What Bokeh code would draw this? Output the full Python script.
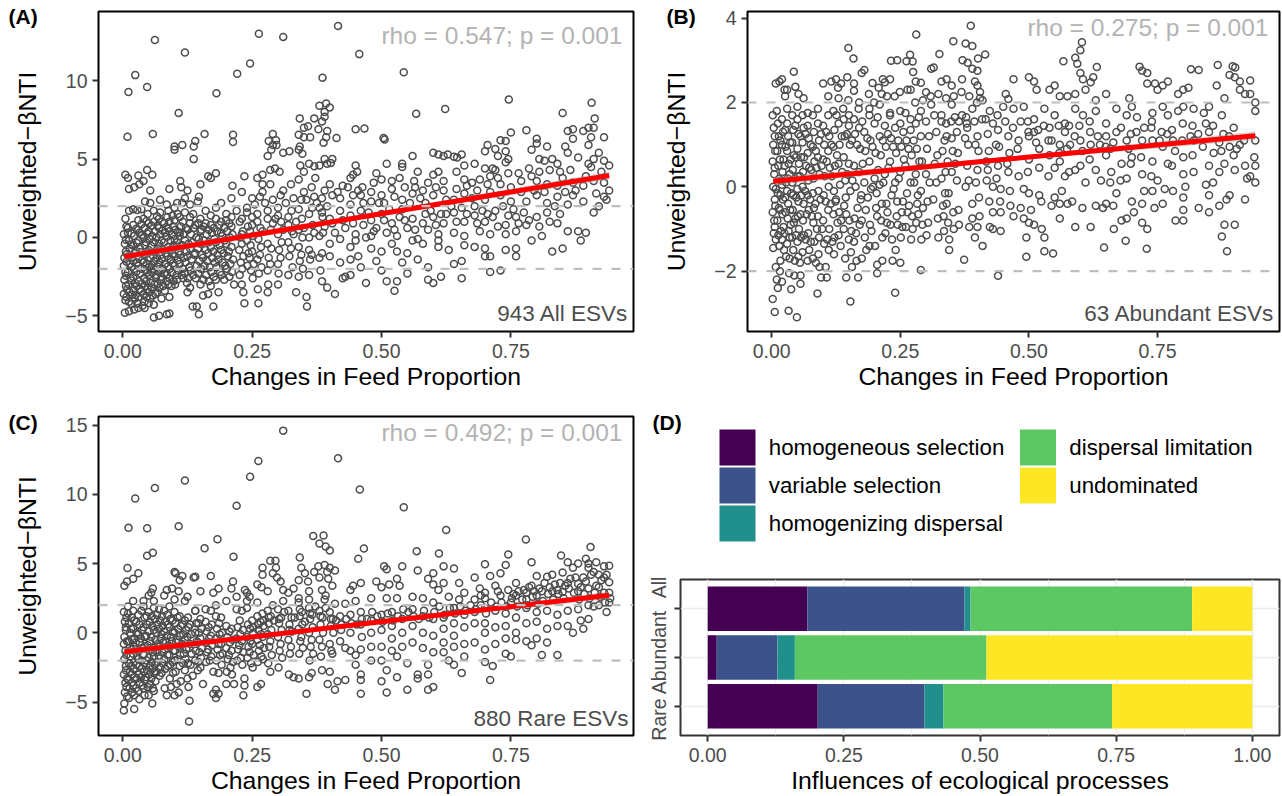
from bokeh.plotting import figure
from bokeh.layouts import column, row
from bokeh.models import Span, FixedTicker, NumeralTickFormatter, Range1d
from bokeh.core.properties import value
from bokeh.embed import file_html
from bokeh.resources import INLINE
import math

points_a = [
.011,9.28,.024,10.36,.047,9.6,.062,12.6,.009,6.42,.058,6.6,.108,7.95,.12,11.8,.1,5.8,.1,5.6,.115,5.9,.137,5.8,.14,6.15,.137,5.0,.158,6.6,.181,9.2,.213,6.55,.213,6.1,.221,10.45,.246,11.1,.263,13.0,.31,12.8,.386,10.2,.416,13.5,.457,11.7,.543,10.55,.567,7.9,.623,8.2,.746,8.8,.906,8.6,.85,7.95,.912,7.6,
.342,7.6,.38,8.4,.393,8.55,.40,8.3,.39,8.0,.39,7.7,.37,7.6,.385,7.4,.35,7.0,.358,7.1,.34,6.55,.35,6.4,.362,6.4,.378,6.9,.395,6.8,.393,6.4,.388,6.05,.413,6.35,.45,6.9,.467,6.95,.504,6.35,.506,6.25,.29,6.6,.282,6.15,.296,6.2,.29,5.9,.297,5.9,.287,5.6,.31,5.4,.322,5.5,.34,5.6,.342,5.8,.347,5.35,.28,5.2,.39,5.0,.405,5.0,.402,4.75,.395,4.7,.38,4.6,.343,4.6,.36,4.7,.37,4.55,.285,4.3,.294,4.4,.303,4.2,.35,4.2,.372,3.8,.34,3.7,.44,3.8,.45,4.6,.453,4.2,.445,4.0,.463,3.2,.48,2.9,.49,4.1,.51,4.7,.5,3.7,.52,3.6,.535,3.8,.54,4.7,.54,4.5,.56,5.2,.57,4.2,.563,3.6,.6,5.4,.61,5.3,.62,5.2,.628,5.3,.64,5.15,.646,5.1,.655,5.3,.66,4.6,.645,4.2,.68,4.7,.6,4.0,.61,4.2,.59,3.5,.62,3.6,.705,5.9,.7,5.5,.72,5.65,.74,5.5,.73,6.2,.74,6.15,.75,6.7,.745,5.0,.725,5.2,.74,4.8,.78,6.85,.8,6.3,.8,6.0,.82,5.8,.79,5.6,.815,4.9,.805,5.0,.83,5.0,.84,4.7,.86,6.8,.87,6.9,.87,6.3,.855,5.8,.86,5.4,.88,5.1,.89,6.8,.9,7.0,.91,7.0,.905,6.4,.9,5.9,.92,5.4,.93,6.4,.91,5.0,.9,4.7,.93,4.9,.94,4.6,.925,4.2,.905,4.5,.7,4.4,.715,4.4,.72,4.3,.71,3.9,.69,3.7,.675,3.5,.66,3.7,.73,3.4,.75,3.2,.77,3.6,.79,3.9,.8,3.6,.82,3.4,.84,3.3,.85,3.8,.87,3.5,.89,3.3,.91,3.6,.93,3.5,.94,3.0,.93,2.6,.935,2.4,.92,2.0,.91,1.6,.89,2.3,.87,2.7,.86,2.1,.84,2.6,.82,2.2,.8,2.7,.78,2.3,.77,2.9,.75,2.3,.73,2.7,.71,2.9,.7,2.4,.68,2.0,.66,2.8,.64,2.4,.62,3.0,.6,2.7,.58,3.0,.56,2.8,.54,2.4,.52,3.1,.5,2.7,.48,2.3,.46,2.7,.44,2.1,.42,2.5,.4,3.4,.39,3.0,.37,2.6,.35,2.9,.33,2.5,.31,3.0,.29,2.4,.27,2.9,.25,2.5,.23,2.9,.21,2.5,.19,2.2,.17,3.8,.18,4.1,.165,3.9,.15,3.4,.147,2.6,.212,3.3,.235,3.9,.26,3.8,.27,4.0,.27,3.4,
.005,4.0,.01,3.8,.012,3.1,.022,3.2,.03,3.95,.032,3.4,.04,3.6,.047,4.3,.057,4.0,.053,3.0,.043,2.3,.053,2.2,.072,2.4,.085,2.1,.09,3.1,.111,3.6,.113,3.2,.125,3.0,.12,2.5,.105,2.2,.005,1.2,.012,1.7,.02,1.8,.028,1.75,.036,1.8,.048,1.5,.06,1.7,.072,1.6,.088,1.7,.1,1.9,.115,2.2,.13,2.1,.145,2.3,.16,1.7,.18,1.9,.2,1.5,.22,1.7,.24,1.9,.26,1.5,.28,1.7,.3,1.9,.32,1.3,.34,1.8,.36,1.5,.38,1.9,.4,1.2,.42,1.7,.44,1.4,.46,1.7,.48,1.1,.5,1.5,.52,0.9,.54,1.8,.56,1.2,.58,0.9,.6,1.3,.62,0.9,.64,1.6,.66,1.0,.68,1.4,.7,1.0,.72,1.7,.74,0.8,.76,1.3,.78,0.8,.8,1.3,.82,1.6,.84,0.9,.86,0.4,.88,0.4,.895,0.3,.885,-0.2,.79,-0.2,.81,0.1,.76,0.4,.74,0.2,.71,0.2,.69,0.4,.66,0.1,.64,0.3,.61,0.2,.59,0.5,.57,-0.1,.55,0.6,.53,0.1,.51,0.3,.49,0.6,.47,0.0,.45,0.2,.43,0.6,.41,0.3,.39,0.7,.37,0.3,.35,0.6,.33,0.2,.31,0.5,.29,0.9,.27,0.4,.25,0.8,.23,0.2,.21,0.7,.19,0.3,.17,0.8,.15,0.4,.13,0.9,.11,0.3,.09,1.0,.07,0.6,.05,0.9,.03,0.5,.01,0.6,
.002,0.2,.004,-0.4,.006,-0.9,.003,-1.3,.002,-1.8,.005,-2.2,.003,-2.7,.006,-3.1,.002,-3.6,.005,-4.0,.004,-4.8,.012,-4.7,.022,-4.6,.03,-4.5,.042,-4.5,.05,-4.2,.06,-5.1,.07,-5.0,.085,-4.9,.09,-4.85,.06,-4.3,.075,-3.9,.09,-3.8,.01,0.3,.012,-0.2,.013,-0.7,.011,-1.2,.014,-1.7,.01,-2.2,.015,-2.6,.011,-3.0,.013,-3.5,.012,-4.1,.02,0.8,.022,0.1,.02,-0.5,.023,-1.0,.02,-1.5,.022,-2.0,.02,-2.5,.024,-2.9,.021,-3.4,.023,-3.9,.03,1.1,.032,0.3,.03,-0.2,.033,-0.7,.031,-1.3,.03,-1.8,.034,-2.3,.031,-2.8,.033,-3.3,.03,-3.8,.04,1.2,.042,0.6,.04,0.0,.043,-0.5,.041,-1.1,.04,-1.6,.044,-2.1,.041,-2.6,.043,-3.1,.04,-3.6,.042,-4.1,.05,0.4,.052,-0.1,.05,-0.8,.053,-1.3,.051,-1.9,.05,-2.4,.054,-2.9,.051,-3.5,.053,-3.9,.06,1.0,.062,0.4,.06,-0.3,.063,-0.9,.061,-1.5,.06,-2.0,.064,-2.5,.061,-3.0,.063,-3.6,.07,1.2,.072,0.2,.07,-0.4,.073,-1.1,.071,-1.6,.07,-2.2,.074,-2.7,.071,-3.2,.08,0.9,.082,0.3,.08,-0.3,.083,-1.0,.081,-1.7,.08,-2.3,.084,-2.8,.081,-3.4,.09,0.4,.092,-0.2,.09,-0.8,.093,-1.4,.091,-2.0,.09,-2.6,.094,-3.1,.1,1.1,.102,0.5,.1,-0.1,.103,-0.6,.101,-1.2,.1,-1.8,.104,-2.4,.101,-3.0,.11,1.3,.112,0.7,.11,0.1,.113,-0.5,.111,-1.1,.11,-1.7,.114,-2.4,.12,1.6,.122,0.6,.12,-0.2,.123,-0.9,.121,-1.6,.12,-2.3,.124,-2.9,.125,-3.5,.13,1.3,.132,0.2,.13,-0.7,.133,-1.4,.131,-2.1,.13,-3.2,.135,-4.4,.143,-4.4,.147,-4.9,.14,0.8,.142,0.0,.14,-1.0,.143,-1.8,.141,-2.6,.15,1.2,.152,0.5,.15,-0.4,.153,-1.1,.151,-2.0,.15,-3.0,.155,-3.7,.165,-3.6,.175,-4.4,.16,0.9,.162,0.2,.16,-0.8,.163,-1.5,.161,-2.4,.17,1.4,.172,0.3,.17,-0.6,.173,-1.3,.171,-2.2,.17,-3.1,.18,1.2,.182,0.4,.18,-0.3,.183,-1.1,.181,-1.9,.18,-2.7,.185,-3.5,.19,1.0,.192,0.1,.19,-0.8,.193,-1.6,.191,-2.4,.2,1.1,.202,0.4,.2,-0.4,.203,-1.2,.201,-2.0,.21,1.3,.212,0.2,.21,-0.6,.213,-1.4,.211,-2.2,.215,-3.0,.23,1.2,.232,0.4,.23,-0.4,.233,-1.2,.231,-2.0,.23,-3.0,.233,-3.5,.235,-4.2,.262,-4.2,.24,1.6,.242,0.7,.24,-0.2,.243,-1.0,.241,-1.8,.25,1.3,.252,0.1,.25,-0.9,.253,-1.7,.251,-2.6,.26,1.0,.262,-0.1,.26,-1.4,.263,-2.3,.261,-3.3,.28,1.2,.28,-0.4,.282,-1.3,.28,-2.1,.281,-3.0,.28,-3.5,.3,1.4,.3,0.2,.302,-0.8,.3,-1.7,.301,-2.3,.3,-3.0,.32,0.8,.32,-0.3,.322,-1.2,.32,-2.4,.335,-3.5,.34,0.5,.34,-0.6,.342,-1.5,.34,-2.5,.355,-3.8,.356,-4.4,.36,0.0,.36,-0.8,.362,-1.4,.36,-2.4,.38,0.1,.38,-1.3,.382,-2.1,.385,-2.8,.395,-3.2,.41,-3.6,.4,-0.4,.4,-1.2,.42,-0.1,.42,-1.6,.425,-2.6,.43,-2.5,.44,-0.6,.44,-1.4,.44,-2.4,.45,-0.2,.455,-1.2,.46,-1.9,.47,-2.9,.48,0.1,.48,-0.7,.49,-1.5,.5,-0.9,.5,-2.1,.51,-2.8,.52,-0.4,.525,-3.4,.53,-2.8,.53,-0.9,.54,-1.6,.55,-2.3,.55,-1.0,.56,-0.2,.57,-1.4,.58,-0.4,.59,-1.9,.6,-2.9,.59,-2.7,.61,-0.2,.61,-0.6,.615,-2.5,.63,-0.8,.64,-1.7,.655,-2.6,.655,-1.5,.66,-0.5,.68,-0.6,.7,-0.7,.7,-1.2,.71,-2.2,.73,-2.1,.71,-1.2,.74,-0.8,.76,-1.2,.76,-0.7,.83,-0.9,.85,-0.7,
.007,0.7,.006,-0.15,.008,-1.05,.007,-1.55,.006,-2.45,.008,-3.3,.007,-3.8,.017,0.25,.016,-0.45,.018,-1.25,.017,-1.85,.016,-2.75,.018,-3.65,.017,-4.25,.026,0.55,.027,-0.35,.025,-0.85,.028,-1.6,.026,-2.2,.027,-3.1,.025,-3.65,.028,-4.2,.036,0.85,.037,0.15,.035,-0.95,.038,-1.45,.036,-2.0,.037,-2.95,.035,-3.45,.038,-4.35,.046,1.05,.047,0.25,.045,-0.3,.048,-1.0,.046,-1.7,.047,-2.25,.045,-2.8,.048,-3.3,.046,-3.8,.056,0.75,.057,0.1,.055,-0.55,.058,-1.15,.056,-1.75,.057,-2.25,.055,-3.2,.058,-3.7,.066,1.35,.067,0.75,.065,0.0,.068,-0.7,.066,-1.3,.067,-1.85,.065,-2.4,.068,-2.95,.066,-3.5,.076,1.0,.077,0.45,.075,-0.2,.078,-0.8,.076,-1.35,.077,-2.0,.075,-2.5,.078,-3.1,.086,1.3,.087,0.6,.085,0.05,.088,-0.6,.086,-1.2,.087,-1.85,.085,-2.4,.088,-3.0,.096,1.4,.097,0.7,.095,0.15,.098,-0.5,.096,-1.05,.097,-1.65,.095,-2.25,.098,-2.8,.106,1.5,.107,0.35,.105,-0.3,.108,-0.9,.106,-1.45,.107,-2.1,.105,-2.7,.116,1.0,.117,0.2,.115,-0.5,.118,-1.3,.116,-2.0,.117,-2.6,.126,0.5,.127,-0.4,.125,-1.2,.128,-1.9,.126,-2.6,.136,1.5,.137,0.6,.135,-0.3,.138,-1.1,.136,-2.4,.146,0.9,.147,-0.1,.145,-0.7,.148,-1.5,.146,-2.3,.156,0.7,.157,-0.2,.155,-1.3,.158,-1.8,.156,-2.7,.166,0.5,.167,-0.3,.165,-1.0,.168,-1.9,.166,-2.8,.176,0.6,.177,-0.1,.175,-0.9,.178,-1.6,.176,-2.5,.186,0.8,.187,-0.5,.185,-1.4,.188,-2.2,.196,0.6,.197,-0.2,.195,-1.0,.198,-1.8,.196,-2.7,.206,0.9,.207,0.0,.205,-0.9,.208,-1.7,.206,-2.5,.226,1.0,.227,0.0,.225,-0.8,.228,-1.6,.226,-2.4,.246,0.4,.247,-0.5,.245,-1.3,.248,-2.1,.266,0.6,.267,-0.6,.265,-1.1,.268,-1.9,.286,0.5,.287,-0.7,.285,-1.7,.306,1.0,.307,-0.3,.305,-1.3,.326,1.7,.327,0.4,.325,-0.7,.328,-1.9,.346,1.2,.347,0.0,.345,-1.1,.348,-2.0,.366,1.9,.367,0.8,.365,-1.1,.386,1.3,.387,0.3,.385,-1.0,
.255,2.1,.275,2.2,.295,1.2,.315,2.2,.335,1.0,.355,2.4,.375,2.2,.395,2.0,.415,2.9,.435,3.2,.455,3.0,.475,1.6,.495,2.2,.515,1.8,.535,1.3,.555,2.2,.575,2.5,.595,1.7,.615,1.5,.635,2.0,.655,1.9,.675,2.5,.695,1.7,.715,1.3,.735,2.0,.755,1.8,.775,1.6,.795,3.0,.815,2.9,.835,2.0,.855,2.9,.875,3.0,.895,3.9,.915,2.8,.865,4.3,.845,4.2,.825,4.3,.805,4.2,.785,4.4,.765,4.1,.745,4.1,.725,3.8,.705,3.4,.685,3.0,.665,3.3,.645,3.1,.625,2.4,.605,3.2,.585,2.2,.565,3.2,.545,3.2,.525,2.6,.505,2.2,.485,3.5,.465,2.2,.445,2.7,.425,3.3,.405,2.7,.385,2.5,.365,3.2,.345,2.4,.325,3.4,.305,2.7,.285,3.4,.265,2.6,.445,0.9,.465,0.8,.485,0.4,.505,1.1,.525,0.5,.545,1.1,.565,0.5,.585,1.5,.605,0.8,.625,1.5,.645,1.0,.665,1.5,.685,0.9,.705,1.5,.725,0.7,.745,1.4,.765,0.9,.785,1.1,.805,0.7,.825,1.0,.845,1.5,.405,0.9,.425,1.1,.385,1.6,
]
points_b = [
.387,3.82,.281,3.61,.353,3.45,.377,3.4,.39,3.34,.149,3.29,.603,3.43,.6,3.24,.59,3.06,.567,2.98,.594,2.92,.326,3.15,.415,3.14,.269,3.13,.159,3.04,.232,2.99,.244,3.0,.262,2.98,.274,2.97,.371,3.0,.381,2.94,.401,3.04,.867,2.89,.896,2.86,.901,2.83,.715,2.85,.632,2.84,.815,2.79,.83,2.77,.043,2.73,
.049,-3.09,.006,-2.97,.033,-2.94,.002,-2.66,.153,-2.72,.089,-2.53,.24,-2.51,.44,-2.11,.29,-1.97,.038,-2.43,.885,-1.53,.729,-1.47,.646,-1.44,.495,-1.66,.547,-1.58,.53,-1.53,.688,-1.28,.875,-1.18,.374,-1.73,
.008,2.45,.015,2.5,.02,2.55,.025,2.3,.026,2.15,.03,2.3,.046,2.37,.052,2.2,.062,2.1,.1,2.45,.116,2.5,.125,2.55,.135,2.45,.147,2.6,.16,2.45,.16,2.28,.175,2.7,.18,2.77,.196,2.46,.208,2.35,.216,2.55,.23,2.55,.22,2.48,.27,2.3,.275,2.72,.28,2.5,.29,2.47,.3,2.24,.31,2.8,.315,2.83,.33,2.5,.34,2.55,.35,2.4,.37,2.55,.39,2.8,.4,2.75,.395,2.5,.4,2.4,.405,2.25,.405,2.1,.455,2.2,.46,2.08,.47,2.55,.5,2.6,.51,2.5,.515,2.3,.54,2.3,.55,2.4,.56,2.15,.575,2.15,.59,2.2,.6,2.7,.605,2.55,.61,2.3,.625,2.6,.62,2.48,.63,2.05,.65,2.2,.72,2.75,.73,2.7,.745,2.45,.73,2.45,.76,2.4,.75,2.3,.77,2.5,.8,2.3,.81,2.35,.79,2.2,.865,2.4,.88,2.1,.89,2.65,.9,2.6,.91,2.5,.91,2.3,.93,2.2,.93,2.52,.94,2.0,.94,1.8,.92,2.2,.875,1.7,.85,1.9,.84,1.75,.82,1.85,.8,1.9,.79,1.8,.77,1.7,.76,1.9,.74,1.75,.71,1.65,.7,1.9,.695,2.1,.69,1.7,.67,1.85,.65,1.5,.63,1.8,.605,1.7,.59,1.85,.57,1.5,.55,1.7,.53,1.85,.51,1.6,.49,1.9,.47,1.85,.45,1.9,.43,1.5,.41,2.05,.39,1.85,.37,1.7,.35,1.95,.33,1.7,.31,1.95,.29,1.8,.27,1.6,.25,1.8,.23,1.75,.21,1.95,.19,1.85,.17,2.0,.15,1.7,.13,2.1,.11,2.15,.09,1.85,.07,1.75,.05,1.9,.03,1.85,.01,1.8,
.002,1.7,.004,1.4,.006,1.2,.003,1.0,.002,0.6,.005,0.3,.003,0.0,.006,-0.3,.002,-0.6,.005,-0.8,.004,-1.1,.003,-1.45,.008,-1.9,.01,-2.2,.012,-2.4,.016,-2.0,.02,-2.25,.024,-1.5,.028,-1.65,.034,-2.05,.044,-2.1,.056,-2.1,.056,-2.3,.012,1.5,.014,1.2,.011,0.85,.013,0.5,.015,0.2,.012,-0.15,.014,-0.5,.011,-0.8,.013,-1.15,.015,-1.4,.02,1.6,.022,1.3,.02,1.0,.023,0.65,.021,0.35,.02,0.05,.022,-0.3,.021,-0.65,.023,-0.95,.02,-1.25,.03,1.5,.032,1.2,.03,0.85,.033,0.55,.031,0.2,.03,-0.1,.032,-0.4,.031,-0.75,.033,-1.05,.03,-1.35,.035,-1.7,.04,1.7,.042,1.35,.04,1.05,.043,0.75,.041,0.4,.04,0.1,.042,-0.2,.041,-0.55,.043,-0.85,.04,-1.2,.042,-1.5,.05,1.6,.052,1.25,.05,0.9,.053,0.55,.051,0.25,.05,-0.05,.052,-0.35,.051,-0.7,.053,-1.0,.05,-1.3,.052,-1.65,.06,1.7,.062,1.4,.06,1.05,.063,0.7,.061,0.35,.06,0.0,.062,-0.4,.061,-0.8,.063,-1.15,.06,-1.55,.07,1.45,.072,1.15,.07,0.8,.073,0.45,.071,0.15,.07,-0.2,.072,-0.55,.071,-1.1,.073,-1.5,.07,-1.75,.08,1.7,.082,1.3,.08,0.95,.083,0.6,.081,0.2,.08,-0.15,.082,-0.5,.081,-0.85,.083,-1.3,.08,-1.7,.09,1.5,.092,1.1,.09,0.7,.093,0.3,.091,-0.1,.09,-0.7,.092,-1.2,.091,-1.6,.093,-1.9,.096,-2.15,.1,1.45,.102,1.0,.1,0.65,.103,0.25,.101,-0.2,.1,-0.8,.102,-1.35,.105,-1.9,.107,-2.15,.11,1.7,.112,1.2,.11,0.85,.113,0.45,.111,0.0,.11,-0.55,.112,-1.0,.111,-1.5,.12,1.8,.122,1.35,.12,0.95,.123,0.5,.121,-0.1,.12,-0.65,.122,-1.2,.121,-1.6,.13,1.5,.132,1.0,.13,0.55,.133,0.05,.131,-0.6,.13,-1.15,.14,1.6,.142,1.2,.14,0.7,.143,0.15,.141,-0.45,.14,-1.0,.143,-1.7,.145,-2.15,.15,1.45,.152,1.0,.15,0.55,.153,-0.1,.151,-0.8,.15,-1.25,.156,-1.9,.16,1.6,.162,1.25,.16,0.5,.163,0.0,.161,-0.75,.16,-1.3,.165,-1.75,.168,-2.15,.17,1.4,.172,0.9,.17,0.35,.173,-0.3,.171,-0.9,.175,-1.7,.18,1.3,.182,0.85,.18,0.1,.183,-0.55,.181,-1.2,.19,1.7,.192,1.1,.19,0.6,.193,-0.05,.191,-0.9,.19,-1.4,.2,1.5,.202,0.8,.2,0.2,.203,-0.5,.201,-1.4,.205,-1.85,.205,-2.05,.21,1.2,.212,0.75,.21,0.05,.213,-0.8,.215,-1.75,.22,1.45,.222,0.95,.22,0.3,.223,-0.4,.221,-1.1,.23,1.7,.232,1.15,.23,0.6,.233,-0.2,.231,-0.9,.24,1.4,.242,0.8,.24,0.1,.243,-0.7,.241,-1.5,.235,-1.75,.25,1.5,.252,0.95,.25,0.35,.253,-0.6,.251,-1.2,.25,-1.8,.26,1.75,.262,1.1,.26,0.5,.263,-0.15,.261,-0.95,.27,1.35,.272,0.75,.27,0.1,.273,-0.7,.271,-1.25,.28,1.5,.282,0.9,.28,0.3,.283,-0.4,.281,-0.85,.29,1.2,.292,0.6,.29,-0.1,.293,-0.9,.291,-1.25,.3,1.55,.302,0.9,.3,0.3,.303,-0.35,.301,-1.15,.32,1.3,.322,0.75,.32,0.1,.323,-0.75,.33,1.55,.332,0.85,.33,0.2,.333,-0.45,.335,-1.05,.34,1.2,.342,0.6,.34,-0.4,.343,-0.85,.35,1.15,.352,0.85,.35,0.35,.353,-0.6,.345,-1.25,.345,-1.5,.36,1.3,.362,0.8,.36,0.15,.363,-0.55,.38,1.4,.382,1.0,.38,0.5,.383,0.15,.39,-0.75,.39,-0.4,.4,1.2,.402,0.85,.4,0.4,.403,-0.25,.4,-0.95,.395,-1.2,.41,-1.4,.42,1.25,.422,0.85,.42,0.4,.423,-0.35,.43,0.0,.43,-0.6,.44,1.35,.442,0.95,.44,0.5,.445,-0.05,.43,-1.0,.445,-1.05,.445,-0.6,.46,1.2,.462,0.8,.46,0.35,.463,-0.1,.47,-0.7,.48,1.1,.48,0.25,.49,-0.05,.5,1.2,.5,0.65,.5,-0.15,.49,-0.75,.495,-1.2,.5,-0.85,.51,1.3,.52,0.9,.52,0.45,.52,-0.2,.51,-0.9,.525,-1.0,.53,-1.2,.54,1.4,.54,0.75,.55,0.45,.55,-0.25,.56,1.0,.56,0.6,.56,-0.4,.56,-0.75,.57,1.3,.57,0.25,.575,-0.4,.58,1.0,.59,0.4,.59,-0.95,.6,1.1,.6,0.5,.61,0.1,.62,-0.95,.62,1.0,.63,0.4,.63,-0.45,.64,0.15,.65,1.2,.65,0.75,.65,-0.4,.66,0.35,.67,1.3,.67,-0.15,.665,-1.0,.68,0.55,.68,-0.8,.69,1.1,.69,0.2,.69,-0.75,.7,0.7,.7,-0.35,.72,1.1,.72,0.3,.72,-0.4,.72,-0.85,.73,-1.0,.74,1.1,.74,0.6,.74,-0.1,.75,0.15,.76,0.95,.76,-0.4,.77,0.55,.78,1.1,.78,-0.1,.785,-0.8,.8,0.7,.8,0.3,.8,-0.25,.8,-0.55,.8,-0.8,.82,1.1,.82,0.35,.83,-0.5,.85,1.3,.85,0.5,.85,-0.2,.85,-0.6,.87,1.05,.87,0.35,.87,-0.45,.88,0.55,.88,-0.9,.89,0.95,.89,-0.2,.9,0.4,.9,-0.9,.91,1.0,.92,0.5,.92,-0.3,.93,0.25,.94,1.1,.94,0.5,.94,0.1,
.007,0.85,.006,0.45,.008,-0.05,.007,-0.45,.006,-0.95,.008,-1.25,.017,1.1,.016,0.65,.018,0.15,.017,-0.2,.016,-0.55,.018,-1.05,.017,-1.75,.026,1.35,.027,0.95,.025,0.5,.028,0.1,.026,-0.25,.027,-0.6,.025,-1.1,.036,1.05,.037,0.65,.035,0.3,.038,-0.15,.036,-0.55,.037,-0.9,.035,-1.2,.046,1.45,.047,0.7,.045,0.2,.048,-0.25,.046,-0.75,.047,-1.15,.045,-1.75,.056,1.2,.057,0.7,.055,0.25,.058,-0.2,.056,-0.65,.057,-1.2,.055,-1.8,.066,1.25,.067,0.5,.065,-0.1,.068,-0.65,.066,-1.25,.076,1.0,.077,0.4,.075,-0.3,.078,-0.7,.076,-1.3,.086,0.85,.087,0.45,.085,-0.4,.088,-1.0,.086,-1.8,.096,1.25,.097,0.5,.095,-0.3,.098,-1.0,.106,1.3,.107,0.6,.105,-0.35,.108,-1.25,.116,1.0,.117,0.25,.115,-0.4,.118,-1.3,.126,1.7,.127,0.75,.125,-0.3,.128,-0.85,.136,1.2,.137,0.35,.135,-0.8,.146,1.25,.147,0.3,.145,-0.65,.156,1.1,.157,0.15,.155,-1.05,.166,1.0,.167,-0.5,.176,1.55,.177,0.55,.175,-0.8,.186,1.15,.187,-0.25,.196,0.95,.197,0.0,.206,1.65,.207,0.4,.205,-0.7,.216,1.1,.217,0.1,.215,-1.2,.226,1.25,.227,0.45,.225,-0.6,.236,0.95,.237,-0.05,.246,1.1,.247,0.2,.245,-0.9,.256,1.3,.257,0.65,.255,-0.35,.266,0.9,.267,-0.45,.276,1.1,.277,0.1,.286,1.65,.287,0.6,.285,-0.65,.306,1.2,.307,0.1,.316,1.7,.317,0.55,.336,1.1,.337,-0.15,.356,1.65,.357,0.55,.376,1.15,.377,0.0,.396,1.0,.397,0.1,.416,1.6,.417,0.6,.436,1.0,.437,0.2,
.478,0.9,.498,0.35,.518,1.35,.538,1.1,.558,1.45,.578,0.35,.598,1.45,.618,0.65,.638,1.0,.658,0.9,.678,0.15,.698,1.25,.718,0.7,.738,0.25,.758,1.3,.778,0.5,.798,1.1,.818,0.75,.838,0.95,.858,0.1,.878,1.25,.898,0.75,.918,1.1,.938,0.7,.898,1.4,.858,1.45,.818,1.45,.778,1.35,.738,1.4,.698,0.55,.658,0.1,.618,1.55,.578,1.45,.538,0.25,.498,1.55,.458,0.55,.418,0.15,.378,1.65,.338,0.35,
.124,-0.35,.134,-1.4,.144,-0.25,.154,-1.55,.164,-1.1,.174,-0.2,.184,-1.5,.194,-1.05,.204,-0.15,.214,-0.4,.224,-0.85,.234,-1.25,.244,-0.35,.254,-0.95,.264,-0.6,.274,-1.0,.284,-0.2,.294,-0.5,.304,-0.85,.314,-0.3,.324,-1.2,.334,-0.7,.344,-0.15,.354,-1.0,.364,-0.9,.384,-0.95,.404,-0.7,.424,-0.95,.444,-0.35,.464,-0.45,.484,-0.5,.504,-0.55,.524,-0.35,.544,-0.45,.564,-0.1,.584,-0.35,.604,-0.5,.644,-0.5,.664,-0.45,.704,-0.6,.724,-0.1,.744,-0.5,.764,-0.05,.804,0.0,.844,0.05,.884,-0.3,.924,0.2,.129,2.35,.139,1.85,.149,2.05,.169,1.85,.189,2.2,.199,2.0,.214,2.2,.224,2.15,.239,2.15,.249,2.25,.264,2.3,.279,2.0,.294,2.05,.309,2.15,.324,2.2,.339,2.1,.354,2.15,.369,2.25,.384,2.15,.399,2.0,.339,1.5,.349,1.55,.364,1.55,.379,1.5,.394,1.55,.409,1.6,.424,1.8,.439,1.7,.454,1.55,.469,1.4,.484,1.55,.499,1.3,.514,1.05,.529,1.45,.544,1.1,.559,0.8,.574,0.9,.589,1.2,.604,0.85,.619,1.3,.634,1.2,.649,0.95,.664,1.05,.679,1.4,.694,0.9,.709,1.3,.724,1.4,.739,1.55,.754,1.1,.769,1.25,.784,0.85,.799,1.5,.814,1.2,.829,1.25,.844,1.5,.859,0.8,.874,0.85,.889,1.2,.904,0.9,
]
points_c = [
.31,14.6,.416,12.6,.262,12.4,.246,11.27,.12,11.0,.062,10.45,.024,9.7,.458,10.35,.22,9.18,.543,9.06,.011,7.58,.047,7.55,.108,7.7,.625,7.43,.779,6.74,.368,7.0,.388,7.03,.38,6.45,.392,6.23,.4,5.95,.183,6.76,.158,6.1,.466,6.09,.568,5.9,.047,5.56,.058,5.78,.214,5.5,.455,5.35,.342,5.44,.611,5.73,.847,5.59,.904,6.19,.745,5.66,.009,4.68,
.003,3.4,.008,3.7,.02,3.9,.03,4.3,.05,2.7,.055,2.9,.058,3.2,.085,3.1,.095,3.2,.1,4.4,.102,4.3,.11,3.8,.115,4.1,.108,3.0,.125,2.6,.137,4.0,.14,4.05,.15,3.0,.17,4.1,.175,2.9,.185,3.2,.21,3.2,.213,3.7,.22,2.6,.236,3.1,.24,2.9,.245,2.6,.26,3.5,.268,3.3,.27,4.7,.27,4.2,.28,3.0,.285,5.2,.295,5.2,.296,4.7,.29,4.3,.298,4.0,.305,3.7,.31,3.1,.32,2.9,.33,3.2,.34,3.8,.345,4.7,.352,4.3,.358,3.7,.36,3.0,.37,4.4,.378,4.8,.38,4.0,.39,4.9,.395,4.4,.397,3.9,.4,4.7,.41,4.5,.385,3.1,.392,2.7,.405,3.4,.44,3.1,.445,3.4,.46,3.6,.49,3.7,.5,3.3,.505,4.8,.51,4.6,.515,3.5,.53,3.9,.54,4.8,.57,4.5,.535,3.4,.59,3.9,.6,3.5,.6,4.3,.62,4.8,.64,4.65,.61,3.1,.62,3.6,.65,3.6,.66,2.9,.68,4.0,.7,4.95,.71,4.1,.73,4.3,.72,3.4,.74,4.9,.745,3.1,.69,3.2,.7,2.9,.76,3.6,.79,5.1,.8,4.1,.79,3.4,.82,4.05,.83,4.2,.85,4.35,.86,5.1,.87,4.7,.88,5.0,.895,5.35,.9,5.0,.915,5.1,.93,4.8,.94,4.85,.93,4.0,.94,3.65,.9,4.7,.91,4.4,.92,4.2,.89,4.0,.88,3.55,.86,3.6,.84,3.1,.81,3.0,.78,2.9,.76,2.7,.94,2.9,.93,2.9,.92,3.3,.9,3.2,.88,3.0,.85,2.95,.83,3.0,.8,2.7,.78,2.4,.75,2.2,.73,2.7,.7,2.5,.68,2.4,.65,2.4,.63,2.6,.6,2.2,.58,2.5,.56,2.6,.53,2.5,.51,2.5,.48,2.5,.45,2.3,.43,2.1,.41,2.1,.39,2.4,.36,2.4,.34,2.5,.31,2.3,.29,2.0,.26,2.2,.24,2.3,.2,2.3,.18,2.0,.16,1.7,.14,1.6,.12,2.3,.1,2.4,.08,2.7,.06,2.3,.04,2.3,.02,2.3,.01,1.9,
.002,1.5,.004,0.8,.006,0.2,.003,-0.3,.002,-0.8,.005,-1.3,.003,-1.9,.006,-2.4,.002,-3.0,.005,-3.6,.004,-4.3,.003,-5.1,.002,-5.6,.022,-5.5,.057,-5.1,.128,-6.4,.129,-4.9,.01,1.4,.012,0.7,.014,0.0,.011,-0.6,.013,-1.1,.015,-1.7,.012,-2.2,.014,-2.8,.011,-3.4,.013,-4.0,.012,-4.7,.02,1.6,.022,0.9,.02,0.3,.023,-0.4,.021,-1.0,.02,-1.5,.022,-2.1,.021,-2.6,.023,-3.2,.02,-3.8,.022,-4.5,.03,1.3,.032,0.6,.03,-0.1,.033,-0.7,.031,-1.3,.03,-1.9,.032,-2.4,.031,-3.0,.033,-3.6,.03,-4.2,.032,-4.8,.04,1.9,.042,1.1,.04,0.4,.043,-0.3,.041,-1.0,.04,-1.6,.042,-2.2,.041,-2.8,.043,-3.4,.04,-4.0,.042,-4.5,.05,1.5,.052,0.8,.05,0.1,.053,-0.6,.051,-1.2,.05,-1.8,.052,-2.4,.051,-3.0,.053,-3.7,.05,-4.5,.06,1.8,.062,1.0,.06,0.2,.063,-0.5,.061,-1.1,.06,-1.7,.062,-2.3,.061,-2.9,.063,-3.5,.06,-4.2,.07,1.7,.072,0.9,.07,0.3,.073,-0.4,.071,-1.0,.07,-1.7,.072,-2.5,.071,-3.1,.08,1.6,.082,0.8,.08,0.1,.083,-0.6,.081,-1.2,.08,-1.9,.082,-2.6,.081,-4.0,.085,-4.5,.09,1.9,.092,1.0,.09,0.4,.093,-0.3,.091,-1.0,.09,-1.6,.092,-2.3,.091,-3.3,.093,-3.9,.1,1.5,.102,0.7,.1,0.0,.103,-0.7,.101,-1.3,.1,-2.0,.102,-2.8,.104,-3.7,.1,-4.5,.11,1.2,.112,0.5,.11,-0.2,.113,-0.9,.111,-1.6,.11,-2.4,.112,-3.5,.108,-4.3,.12,0.9,.122,0.2,.12,-0.5,.123,-1.2,.121,-1.9,.12,-2.7,.125,-3.3,.127,-3.9,.13,0.6,.132,-0.1,.13,-0.8,.133,-1.5,.131,-2.3,.135,-3.1,.14,1.6,.142,0.7,.14,0.0,.143,-0.6,.141,-1.3,.14,-2.0,.145,-2.7,.15,1.0,.152,0.3,.15,-0.4,.153,-1.1,.151,-1.8,.15,-2.5,.155,-3.7,.16,0.8,.162,0.1,.16,-0.7,.163,-1.4,.161,-2.1,.17,1.6,.172,0.6,.17,-0.2,.173,-0.9,.171,-1.7,.175,-2.8,.175,-4.4,.18,-4.1,.18,-4.7,.185,-4.4,.18,1.2,.182,0.3,.18,-0.4,.183,-1.2,.181,-2.0,.185,-2.9,.19,1.1,.192,0.0,.19,-0.8,.193,-1.5,.191,-2.3,.2,0.5,.202,-0.3,.2,-1.1,.203,-1.9,.201,-2.8,.2,-3.7,.215,-3.7,.21,0.3,.212,-0.5,.21,-1.3,.213,-2.1,.211,-3.0,.22,1.7,.222,0.4,.22,-0.4,.223,-1.2,.221,-2.0,.23,1.6,.232,0.2,.23,-0.6,.233,-1.4,.231,-2.3,.235,-3.3,.235,-3.8,.233,-4.5,.26,-3.9,.267,-3.7,.24,1.8,.242,0.6,.24,-0.3,.243,-1.0,.241,-1.8,.25,0.9,.252,0.0,.25,-0.8,.253,-1.6,.251,-2.5,.26,1.2,.262,0.2,.26,-0.5,.263,-1.3,.261,-2.1,.27,1.4,.272,0.5,.27,-0.3,.273,-1.1,.271,-1.9,.28,1.6,.282,0.7,.28,-0.1,.283,-1.0,.281,-2.2,.285,-2.8,.3,1.7,.302,0.7,.3,-0.3,.303,-1.3,.301,-2.5,.32,1.6,.322,0.6,.32,-0.5,.323,-1.5,.321,-3.0,.33,-3.2,.34,2.2,.342,1.2,.34,0.3,.343,-0.6,.341,-1.5,.34,-3.3,.355,-4.4,.36,1.8,.362,1.0,.36,0.0,.363,-1.0,.361,-2.0,.365,-2.9,.36,-3.2,.38,1.6,.382,0.6,.38,-0.5,.383,-1.7,.385,-2.7,.4,1.5,.402,0.5,.4,-0.8,.403,-1.3,.4,-2.8,.396,-3.7,.41,-4.1,.415,-3.5,.42,1.2,.422,0.2,.42,-0.6,.43,-1.1,.43,-3.4,.44,1.3,.44,0.0,.44,-1.3,.45,-1.6,.45,-2.3,.46,1.5,.46,0.6,.462,-0.3,.46,-1.2,.46,-3.0,.46,-3.4,.46,-4.4,.48,0.9,.48,0.0,.48,-1.0,.48,-2.0,.5,1.3,.5,0.2,.5,-1.0,.5,-2.0,.5,-3.5,.51,-2.7,.51,-4.3,.52,1.5,.52,0.5,.52,-0.4,.52,-1.3,.53,-1.7,.53,-3.2,.54,1.0,.54,0.0,.54,-1.0,.55,-2.2,.56,1.7,.56,0.5,.56,-0.7,.55,-4.1,.57,-3.0,.57,-3.3,.58,1.2,.58,0.0,.58,-1.1,.59,-2.3,.59,-3.0,.59,-4.1,.6,1.0,.6,-0.2,.6,-1.4,.6,-3.9,.62,1.1,.62,0.3,.62,-0.7,.62,-1.4,.63,-2.0,.64,1.8,.64,0.7,.64,-0.2,.64,-1.0,.64,-2.3,.655,-2.9,.66,1.3,.66,0.4,.66,-0.8,.66,-1.7,.68,1.5,.68,0.7,.68,-0.7,.7,1.8,.7,0.7,.7,0.0,.7,-1.2,.7,-2.1,.71,-3.4,.715,-2.4,.72,1.6,.72,0.4,.72,-0.8,.74,1.4,.74,0.5,.74,-0.4,.74,-1.5,.75,-1.7,.76,1.1,.76,0.0,.76,-0.5,.78,1.8,.78,0.7,.78,-0.6,.79,-0.9,.8,1.5,.8,0.8,.8,-0.4,.81,-1.6,.82,1.6,.82,0.3,.82,-0.7,.84,1.3,.84,0.5,.84,-1.6,.86,1.6,.86,0.5,.87,0.0,.88,1.7,.885,0.9,.89,0.3,.9,2.0,.9,1.0,.91,1.9,.92,2.0,.935,1.5,.94,2.2,
.007,1.1,.006,0.4,.008,-0.6,.007,-1.6,.006,-2.7,.008,-3.3,.007,-3.9,.008,-4.6,.017,1.1,.016,0.3,.018,-0.5,.017,-1.2,.016,-2.4,.018,-3.0,.017,-3.6,.018,-4.3,.026,0.8,.027,0.0,.025,-0.7,.028,-1.7,.026,-2.3,.027,-3.3,.025,-4.0,.036,1.6,.037,0.2,.035,-0.4,.038,-1.1,.036,-2.0,.037,-2.6,.035,-3.2,.038,-3.8,.046,1.2,.047,0.6,.045,-0.2,.048,-0.9,.046,-2.0,.047,-2.7,.045,-3.2,.048,-3.9,.056,1.2,.057,0.5,.055,-0.3,.058,-1.4,.056,-2.1,.057,-2.6,.055,-3.3,.058,-4.0,.066,1.3,.067,0.6,.065,0.0,.068,-0.8,.066,-1.4,.067,-2.1,.065,-2.8,.076,1.2,.077,0.5,.075,-0.1,.078,-0.7,.076,-1.4,.077,-2.2,.075,-2.9,.086,1.3,.087,0.6,.085,-0.2,.088,-0.9,.086,-1.6,.087,-2.4,.096,0.9,.097,0.1,.095,-0.6,.098,-1.3,.096,-2.1,.097,-2.9,.106,1.1,.107,0.3,.105,-0.5,.108,-1.0,.106,-1.9,.116,0.6,.117,-0.1,.115,-0.8,.118,-1.5,.116,-2.2,.126,1.1,.127,0.4,.125,-0.3,.128,-1.1,.126,-2.2,.146,0.7,.147,0.0,.145,-0.7,.148,-1.4,.146,-2.1,.166,0.4,.167,-0.4,.165,-1.2,.168,-2.0,.186,0.7,.187,-0.1,.185,-0.8,.188,-1.6,.206,0.1,.207,-0.7,.205,-1.6,.208,-2.5,.226,0.9,.227,-0.1,.225,-0.9,.228,-1.8,.246,0.3,.247,-0.6,.245,-1.4,.248,-2.2,.266,0.8,.267,-0.1,.265,-0.9,.268,-1.7,.286,1.2,.287,0.2,.285,-0.6,.288,-1.6,.306,1.1,.307,0.2,.305,-0.8,.308,-1.8,.326,1.1,.327,0.1,.325,-1.0,.346,1.5,.347,0.6,.345,-0.3,.348,-1.1,.366,1.3,.367,0.4,.365,-0.5,.368,-1.5,.386,1.1,.387,0.0,.385,-1.0,.406,1.0,.407,0.0,.405,-1.5,
.942,2.5,.932,2.2,.922,2.6,.912,2.9,.902,2.5,.892,2.8,.882,2.4,.872,2.9,.862,3.2,.852,2.5,.842,2.8,.832,2.4,.822,2.8,.812,2.3,.802,2.1,.792,2.6,.782,2.0,.772,2.4,.762,1.9,.752,2.5,.742,1.9,.732,2.2,.722,1.9,.712,2.2,.702,1.4,.692,2.0,.682,1.7,.672,2.0,.662,1.6,.652,1.9,.642,1.4,.632,1.8,.622,1.3,.612,1.9,.602,1.5,.592,1.1,.582,1.6,.572,1.0,.562,1.2,.552,1.5,.542,1.7,.532,1.2,.522,0.9,.512,1.4,.502,0.8,.492,1.2,.482,1.5,.472,1.0,.462,1.0,.452,0.6,.442,0.7,.432,1.0,.422,0.6,.412,0.9,.402,1.0,.392,1.8,.382,1.2,.372,1.9,.362,1.4,.352,0.8,.342,1.7,.332,1.1,.322,0.2,.312,1.5,.302,1.0,.292,0.9,.282,1.1,.272,0.9,.262,0.6,.252,0.4,.935,4.2,.925,3.8,.915,3.4,.905,4.2,.895,3.7,.885,3.3,.875,4.0,.865,3.9,.855,3.4,.845,3.6,.835,3.5,.825,3.3,.815,3.6,.805,3.2,.795,3.0,.785,3.3,.775,3.1,.765,3.0,.755,2.8,.725,3.0,.692,2.7,
]

feed_a = points_a[0::2]; beta_a = points_a[1::2]
feed_b = points_b[0::2]; beta_b = points_b[1::2]
feed_c = points_c[0::2]; beta_c = points_c[1::2]

trend_x = [0.003, 0.47, 0.94]
trend_a = [-1.22, 1.36, 3.95]
trend_b = [0.135, 0.67, 1.21]
trend_c = [-1.37, 0.67, 2.71]
spread_a = [0.26, 0.14, 0.26]
spread_b = [0.1, 0.05, 0.1]
spread_c = [0.26, 0.14, 0.26]

bar_groups = ["Rare", "Abundant", "All"]
processes = ["homogeneous selection", "variable selection", "homogenizing dispersal", "dispersal limitation", "undominated"]
colors = ["#440154", "#3B528B", "#21908C", "#5DC863", "#FDE725"]
share_rare = [0.202, 0.196, 0.035, 0.3095, 0.2575]
share_abundant = [0.0165, 0.1115, 0.032, 0.352, 0.488]
share_all = [0.183, 0.2885, 0.0112, 0.4069, 0.1104]

FONT = "Liberation Sans"
GRAY = "#4D4D4D"
x_ticks = [0, 0.25, 0.5, 0.75]


def style(p, xt, xlabel):
    p.frame_align = False
    p.background_fill_color = "white"
    p.border_fill_color = None
    p.outline_line_color = "black"
    p.outline_line_width = 2
    p.xgrid.visible = False
    p.ygrid.visible = False
    p.xaxis.ticker = FixedTicker(ticks=xt)
    p.xaxis.formatter = NumeralTickFormatter(format="0.00")
    p.xaxis.axis_label = xlabel
    for ax in (p.xaxis[0], p.yaxis[0]):
        ax.axis_line_color = None
        ax.major_tick_line_color = "#333333"
        ax.major_tick_line_width = 2
        ax.major_tick_in = 0
        ax.major_tick_out = 6
        ax.minor_tick_line_color = None
        ax.major_label_text_font = FONT
        ax.major_label_text_font_size = "19.5px"
        ax.major_label_text_color = GRAY
        ax.axis_label_text_font = FONT
        ax.axis_label_text_font_size = "24.8px"
        ax.axis_label_text_font_style = "normal"
        ax.axis_label_text_color = "black"
    p.xaxis.major_label_standoff = 6
    p.xaxis.axis_label_standoff = 2
    p.yaxis.major_label_standoff = 5


def scatter_panel(feed, beta, trend, spread, yr, yticks, w, h, borders):
    p = figure(width=w, height=h, x_range=(-0.047, 0.987), y_range=yr, output_backend="svg", toolbar_location=None,
               min_border_left=borders[0], min_border_right=borders[1], min_border_top=borders[2], min_border_bottom=borders[3])
    style(p, x_ticks, "Changes in Feed Proportion")
    p.yaxis.ticker = FixedTicker(ticks=yticks)
    p.yaxis.axis_label = "Unweighted\u2212\u03b2NTI"
    p.yaxis.axis_label_standoff = 21
    p.scatter(feed, beta, marker="circle", size=7, fill_color=None, line_color=GRAY, line_width=1.5)
    for yv in (2, -2):
        p.add_layout(Span(location=yv, dimension="width", line_color="#BEBEBE", line_width=2.2, line_dash="9 10"))
    low = [t - s for t, s in zip(trend, spread)]
    high = [t + s for t, s in zip(trend, spread)]
    p.varea(trend_x, low, high, fill_color="#999999", fill_alpha=0.4)
    p.line(trend_x, trend, line_color="red", line_width=5)
    return p


pa = scatter_panel(feed_a, beta_a, trend_a, spread_a, (-6.0, 14.42), [-5, 0, 5, 10], 640, 400, (98, 7, 11, 69))
pb = scatter_panel(feed_b, beta_b, trend_b, spread_b, (-3.43, 4.157), [-2, 0, 2, 4], 642, 400, (107, 3, 11, 69))
pc = scatter_panel(feed_c, beta_c, trend_c, spread_c, (-7.41, 15.62), [-5, 0, 5, 10, 15], 640, 396, (98, 7, 16, 60))

pd = figure(width=642, height=396, x_range=(-0.05, 1.05), y_range=Range1d(0.4, 3.6), output_backend="svg",
            toolbar_location=None, min_border_left=40, min_border_right=3, min_border_top=179, min_border_bottom=60)
style(pd, [0, 0.25, 0.5, 0.75, 1.0], "Influences of ecological processes")
pd.outline_line_color = "#333333"
pd.xaxis.ticker = FixedTicker(ticks=[0, 0.25, 0.5, 0.75, 1.0], minor_ticks=[0.125, 0.375, 0.625, 0.875])
pd.yaxis.ticker = FixedTicker(ticks=[1, 2, 3])
pd.yaxis.major_label_overrides = {1: "", 2: "", 3: ""}
pd.xgrid.visible = True
pd.ygrid.visible = True
pd.xgrid.ticker = pd.xaxis[0].ticker
pd.ygrid.ticker = pd.yaxis[0].ticker
pd.xgrid.grid_line_color = "#EBEBEB"
pd.xgrid.grid_line_width = 1.6
pd.xgrid.minor_grid_line_color = "#EBEBEB"
pd.xgrid.minor_grid_line_width = 0.8
pd.ygrid.grid_line_color = "#EBEBEB"
pd.ygrid.grid_line_width = 1.6

shares = list(zip(share_rare, share_abundant, share_all))
positions = [1, 2, 3]
left = [0.0, 0.0, 0.0]
for name, col, vals in zip(processes, colors, shares):
    r_edge = [a + b for a, b in zip(left, vals)]
    pd.hbar(y=positions, left=left, right=r_edge, height=0.91, fill_color=col, line_color=None)
    left = r_edge

# Transparent page-sized layer: the svg backend clips annotations to each plot's frame.
ov = figure(width=1282, height=796, x_range=Range1d(0, 1282), y_range=Range1d(796, 0), output_backend="svg",
            toolbar_location=None, x_axis_type=None, y_axis_type=None, min_border=0,
            styles={"position": "absolute", "left": "0px", "top": "0px"})
ov.grid.visible = False
ov.outline_line_color = None
ov.background_fill_color = None
ov.border_fill_color = None


def put(x, y, txt, size, color, align="left", bold=False, angle=0.0):
    ov.text([x], [y], text=[txt], text_font=value(FONT), text_font_size=size, text_color=color, text_align=align,
            text_baseline="middle", text_font_style="bold" if bold else "normal", angle=angle)


put(622, 34.5, "rho = 0.547; p = 0.001", "24.5px", "#B3B3B3", "right")
put(1268, 27, "rho = 0.275; p = 0.001", "24.5px", "#B3B3B3", "right")
put(622, 432, "rho = 0.492; p = 0.001", "24.5px", "#B3B3B3", "right")
put(628, 313, "943 All ESVs", "22.5px", GRAY, "right")
put(1274, 313, "63 Abundant ESVs", "22.5px", GRAY, "right")
put(628, 717.5, "880 Rare ESVs", "22.5px", GRAY, "right")
put(8, 16, "(A)", "21px", "black", bold=True)
put(666, 16, "(B)", "21px", "black", bold=True)
put(8, 422, "(C)", "21px", "black", bold=True)
put(652, 422, "(D)", "21px", "black", bold=True)
for name, ly in zip(bar_groups, (719, 652, 587)):
    put(658.4, ly, name, "19.5px", GRAY, "center", angle=math.pi / 2)

legend_cols = [719, 719, 719, 1019.5, 1019.5]
legend_rows = [429, 467, 505, 429, 467]
for name, col, lx, ly in zip(processes, colors, legend_cols, legend_rows):
    ov.quad(left=[lx], right=[lx + 36], top=[ly], bottom=[ly + 36], fill_color=col, line_color=None)
    put(lx + 49.3, ly + 18, name, "22.3px", "black")

page = column(row(pa, pb, spacing=0), row(pc, pd, spacing=0), ov, spacing=0)
open("out.html", "w").write(file_html(page, INLINE))
